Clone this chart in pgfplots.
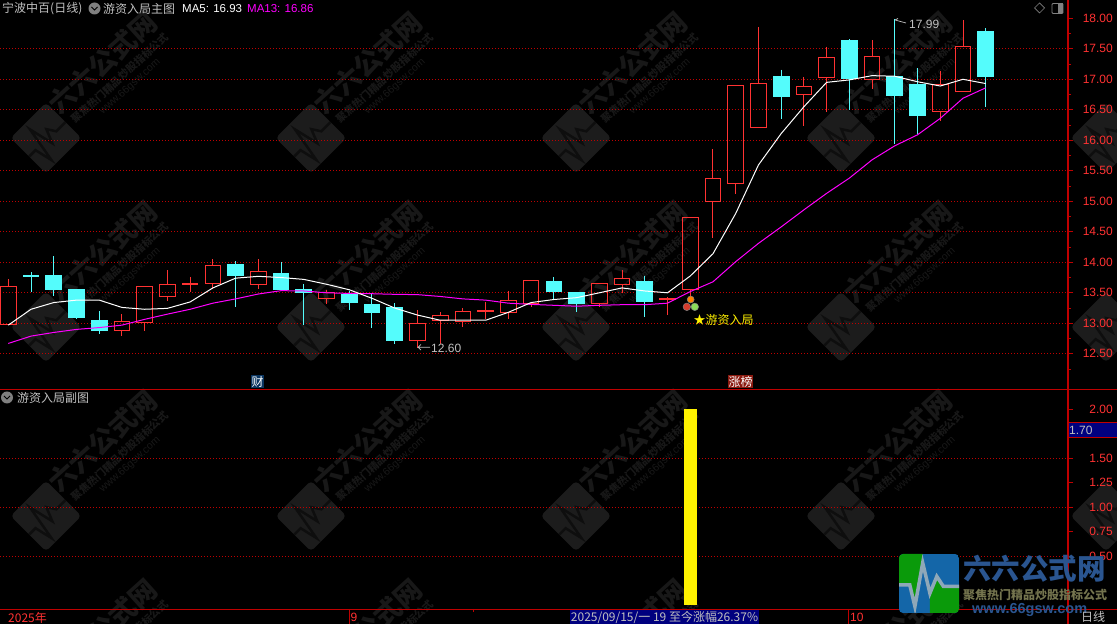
\documentclass[border=0pt]{standalone}
\usepackage{fontspec}
\usepackage{pgfplots}
\pgfplotsset{compat=1.18}
\setmainfont{Liberation Sans}
\newfontfamily\cjk{Noto Sans CJK SC}
\definecolor{redc}{HTML}{FF3232}
\definecolor{cyanc}{HTML}{54FCFC}
\definecolor{axisred}{HTML}{C00000}
\definecolor{griddot}{HTML}{C00000}
\definecolor{wm}{HTML}{1C1C1C}
\definecolor{wmd}{HTML}{0E0E0E}
\definecolor{wmt}{HTML}{181818}
\definecolor{lblue}{HTML}{2A5590}
\definecolor{ltan}{HTML}{74744E}
\definecolor{lgreen}{HTML}{0A9A0A}
\definecolor{lbl}{HTML}{1466A8}
\definecolor{lpulse}{HTML}{8FA8B8}
\definecolor{navyb}{HTML}{00007F}
\definecolor{greyt}{HTML}{C0C0C0}
\definecolor{magc}{HTML}{FF00FF}
\definecolor{tagb}{HTML}{0A3560}
\definecolor{tagr}{HTML}{8B1A10}
\definecolor{ballr}{HTML}{D63C2D}
\definecolor{ballg}{HTML}{8CDC5A}
\newcommand{\upc}[5]{%
  \pgfmathsetmacro\xa{#1-0.345}\pgfmathsetmacro\xb{#1+0.345}%
  \addplot[redc,line width=1pt] coordinates {(#1,#4)(#1,#2)};
  \addplot[redc,line width=1pt] coordinates {(#1,#3)(#1,#5)};
  \addplot[draw=redc,fill=none,line width=1pt] coordinates {(\xa,#3)(\xb,#3)(\xb,#2)(\xa,#2)} -- cycle;
}
\newcommand{\dnc}[5]{%
  \pgfmathsetmacro\xa{#1-0.345}\pgfmathsetmacro\xb{#1+0.345}%
  \addplot[cyanc,line width=1pt] coordinates {(#1,#4)(#1,#5)};
  \addplot[draw=cyanc,fill=cyanc,line width=1pt] coordinates {(\xa,#3)(\xb,#3)(\xb,#2)(\xa,#2)} -- cycle;
}
\newcommand{\wmlogo}[2]{%
  \begin{scope}[shift={(#1,#2)},rotate=45,x=25pt,y=-25pt]
    \fill[wm,rounded corners=4pt] (-1,-1) rectangle (1,1);
    \draw[wmd,line width=2.5pt] (-1,.05)--(-.64,.05)--(-.47,.78)--(-.21,-.7)--(.03,.33)--(.26,-.24)--(.48,.1)--(1,.1);
  \end{scope}
}
\newcommand{\wmtile}[2]{%
  \wmlogo{#1}{#2}
  \node[wmt,rotate=42,inner sep=0pt,font=\cjk\bfseries\fontsize{27}{27}\selectfont] at (#1+57,#2-75) {六六公式网};
  \node[wmt,rotate=42,inner sep=0pt,font=\cjk\bfseries\fontsize{10.5}{10.5}\selectfont] at (#1+74,#2-60) {聚焦热门精品炒股指标公式};
  \node[wmt,rotate=42,inner sep=0pt,font=\fontsize{10.5}{10.5}\selectfont] at (#1+84,#2-51) {www.66gsw.com};
}
\pgfplotsset{
  stock/.style={
    scale only axis, width=1068pt,
    xmin=-0.365, xmax=46.62, xtick=\empty,
    axis line style={draw=none},
    tick align=outside,
    ymajorgrids, grid style={griddot,line width=1pt,dash pattern=on 1pt off 2pt},
    ytick pos=right, yticklabel pos=right,
    major tick length=5pt, minor tick length=3pt,
    every y tick/.style={axisred,line width=0.8pt},
    minor y tick style={axisred,line width=0.8pt},
    yticklabel style={anchor=east,xshift=40pt,inner sep=0pt,text=redc,font=\fontsize{12}{12}\selectfont,
      /pgf/number format/fixed,/pgf/number format/fixed zerofill,/pgf/number format/precision=2,
      /pgf/number format/assume math mode=true},
    extra y tick style={grid=none},
  }
}
\begin{document}
\begin{tikzpicture}[x=1pt,y=1pt]
\path[use as bounding box] (0,0) rectangle (1117,624);
\fill[black] (0,0) rectangle (1117,624);
\begin{scope}
\clip (0,0) rectangle (1117,624);
\begin{scope}[x=1pt,y=-1pt,yshift=624pt]
  \foreach \yy in {138,327,516}{
    \foreach \xx in {46,311,576,841}{
      \wmtile{\xx}{\yy}
    }
    \wmlogo{1106}{\yy}
  }
  \foreach \xx in {46,311,576,841}{
    \wmtile{\xx}{705}
  }
\end{scope}
\end{scope}
%---------- main panel
\begin{axis}[stock, at={(0pt,235pt)}, anchor=south west, height=389pt,
  ymin=11.923, ymax=18.3,
  ytick={12.5,13,13.5,14,14.5,15,15.5,16,16.5,17,17.5},
  minor ytick={12.25,12.75,13.25,13.75,14.25,14.75,15.25,15.75,16.25,16.75,17.25,17.75},
  extra y ticks={18}]
\upc{0}{13.61}{12.98}{13.72}{12.98}
\dnc{1}{13.79}{13.76}{13.84}{13.51}
\dnc{2}{13.79}{13.55}{14.10}{13.45}
\dnc{3}{13.55}{13.09}{13.56}{13.07}
\dnc{4}{13.05}{12.89}{13.20}{12.82}
\upc{5}{13.03}{12.88}{13.15}{12.79}
\upc{6}{13.61}{13.01}{13.61}{12.88}
\upc{7}{13.64}{13.44}{13.87}{13.365}
\upc{8}{13.66}{13.63}{13.76}{13.51}
\upc{9}{13.95}{13.66}{14.05}{13.57}
\dnc{10}{13.97}{13.78}{14.02}{13.27}
\upc{11}{13.85}{13.63}{14.05}{13.56}
\dnc{12}{13.82}{13.55}{14.00}{13.55}
\dnc{13}{13.55}{13.50}{13.64}{12.98}
\upc{14}{13.50}{13.40}{13.55}{13.32}
\dnc{15}{13.48}{13.34}{13.53}{13.22}
\dnc{16}{13.30}{13.185}{13.49}{12.92}
\dnc{17}{13.26}{12.715}{13.33}{12.66}
\upc{18}{13.00}{12.715}{13.22}{12.60}
\upc{19}{13.13}{13.04}{13.185}{12.66}
\upc{20}{13.20}{13.03}{13.25}{12.94}
\upc{21}{13.21}{13.19}{13.35}{13.065}
\upc{22}{13.38}{13.17}{13.53}{13.07}
\upc{23}{13.70}{13.32}{13.70}{13.27}
\dnc{24}{13.68}{13.52}{13.76}{13.39}
\dnc{25}{13.50}{13.33}{13.50}{13.185}
\upc{26}{13.655}{13.32}{13.655}{13.27}
\upc{27}{13.74}{13.63}{13.87}{13.50}
\dnc{28}{13.68}{13.365}{13.78}{13.11}
\upc{29}{13.41}{13.39}{13.425}{13.14}
\upc{30}{14.74}{13.56}{14.74}{13.45}
\upc{31}{15.38}{14.99}{15.86}{14.40}
\upc{32}{16.90}{15.295}{16.90}{15.12}
\upc{33}{16.93}{16.21}{17.86}{16.21}
\dnc{34}{17.04}{16.71}{17.16}{16.355}
\upc{35}{16.885}{16.75}{17.04}{16.23}
\upc{36}{17.36}{17.03}{17.535}{16.47}
\dnc{37}{17.63}{17.005}{17.66}{16.50}
\upc{38}{17.38}{17.00}{17.64}{16.84}
\dnc{39}{17.04}{16.73}{17.99}{15.94}
\dnc{40}{16.92}{16.40}{17.185}{16.10}
\upc{41}{16.92}{16.475}{17.14}{16.32}
\upc{42}{17.54}{16.80}{17.97}{16.80}
\dnc{43}{17.79}{17.05}{17.84}{16.55}
% MA13
\addplot[magc,line width=1pt] coordinates {
(0,12.67)(1,12.79)(2,12.85)(3,12.90)(4,12.93)(5,12.97)(6,13.065)(7,13.15)(8,13.23)(9,13.33)
(10,13.40)(11,13.48)(12,13.535)(13,13.53)(14,13.50)(15,13.49)(16,13.485)(17,13.475)(18,13.47)(19,13.44)
(20,13.40)(21,13.38)(22,13.33)(23,13.31)(24,13.295)(25,13.28)(26,13.295)(27,13.305)(28,13.305)(29,13.33)
(30,13.52)(31,13.68)(32,14.01)(33,14.31)(34,14.58)(35,14.86)(36,15.13)(37,15.38)(38,15.68)(39,15.91)
(40,16.09)(41,16.36)(42,16.69)(43,16.86)};
% MA5
\addplot[white,line width=1pt] coordinates {
(0,12.97)(1,13.23)(2,13.34)(3,13.38)(4,13.38)(5,13.26)(6,13.23)(7,13.245)(8,13.35)(9,13.58)
(10,13.74)(11,13.77)(12,13.75)(13,13.72)(14,13.64)(15,13.55)(16,13.41)(17,13.25)(18,13.135)(19,13.05)
(20,13.05)(21,13.05)(22,13.18)(23,13.34)(24,13.39)(25,13.42)(26,13.50)(27,13.58)(28,13.53)(29,13.50)
(30,13.775)(31,14.14)(32,14.80)(33,15.595)(34,16.11)(35,16.55)(36,16.95)(37,16.99)(38,17.06)(39,17.05)
(40,16.96)(41,16.89)(42,17.00)(43,16.93)};
% signal balls
\addplot[only marks,mark=*,mark size=3.5pt,mark options={draw=gray,line width=.5pt,fill=orange}] coordinates {(30.02,13.39)};
\addplot[only marks,mark=*,mark size=3.8pt,mark options={draw=gray,line width=.5pt,fill=ballr}] coordinates {(29.85,13.27)};
\addplot[only marks,mark=*,mark size=3.8pt,mark options={draw=gray,line width=.5pt,fill=ballg}] coordinates {(30.2,13.27)};
\end{axis}
%---------- sub panel
\begin{axis}[stock, at={(0pt,15pt)}, anchor=south west, height=219pt,
  ymin=-0.038, ymax=2.197,
  ytick={0.5,1,1.5},
  extra y ticks={0.75,1.25,1.75,2}]
\addplot[ybar,bar width=13pt,fill=yellow,draw=none] coordinates {(30,2)};
\end{axis}
%---------- frame and texts in pixel coordinates
\begin{scope}[x=1pt,y=-1pt,yshift=624pt]
  \draw[axisred,line width=1pt] (0,389.5)--(1117,389.5);
  \draw[axisred,line width=1pt] (0,609.3)--(1117,609.3);
  \draw[axisred,line width=2pt] (1068,0)--(1068,624);
  \draw[axisred,line width=.8pt] (349.5,609)--(349.5,624);
  \draw[axisred,line width=.8pt] (848,609)--(848,624);
  \draw[axisred,line width=.8pt] (473.6,609)--(473.6,612);
  % title
  \node[anchor=west,inner sep=0pt,text=greyt,font=\cjk\fontsize{12}{12}\selectfont] at (2,9) {宁波中百(日线)};
  \fill[gray] (94.5,8.5) circle (6);
  \draw[black,line width=1pt] (91.5,7)--(94.5,10)--(97.5,7);
  \node[anchor=west,inner sep=0pt,text=greyt,font=\cjk\fontsize{12}{12}\selectfont] at (103,9) {游资入局主图};
  \node[anchor=west,inner sep=0pt,text=white,font=\fontsize{11.5}{12}\selectfont] at (182,9) {MA5: 16.93};
  \node[anchor=west,inner sep=0pt,text=magc,font=\fontsize{11.5}{12}\selectfont] at (247,9) {MA13: 16.86};
  \fill[gray] (7,397.5) circle (6);
  \draw[black,line width=1pt] (4,396)--(7,399)--(10,396);
  \node[anchor=west,inner sep=0pt,text=greyt,font=\cjk\fontsize{12}{12}\selectfont] at (17,398) {游资入局副图};
  % corner icons
  \draw[gray,line width=.7pt] (1039.5,3)--(1044.5,8)--(1039.5,13)--(1034.5,8)--cycle;
  \draw[gray,line width=.8pt,rounded corners=1pt] (1052,3.5) rectangle (1063,13.5);
  \fill[gray] (1058,3.5) rectangle (1063,13.5);
  % annotations
  \draw[greyt,line width=.7pt] (430,347.3)--(418,347.3) (421,344.5)--(418,347.3)--(421,350);
  \node[anchor=west,inner sep=0pt,text=greyt,font=\fontsize{12}{12}\selectfont] at (431,348) {12.60};
  \draw[greyt,line width=.7pt] (906,23)--(895,20) (895,20)--(898,18.5);
  \node[anchor=west,inner sep=0pt,text=greyt,font=\fontsize{12}{12}\selectfont] at (909,24.5) {17.99};
  \node[anchor=west,inner sep=0pt,text=yellow,font=\cjk\fontsize{12}{12}\selectfont] at (693.5,320) {★游资入局};
  % tags
  \fill[tagb] (251,375) rectangle (264,388);
  \node[inner sep=0pt,text=white,font=\cjk\fontsize{12}{12}\selectfont] at (257.5,381.5) {财};
  \fill[tagr] (728,375) rectangle (753,388);
  \node[inner sep=0pt,text=white,font=\cjk\fontsize{12}{12}\selectfont] at (740.5,381.5) {涨榜};
  % value box
  \fill[navyb,draw=axisred,line width=1pt] (1068,423) rectangle (1117,438);
  \node[anchor=west,inner sep=0pt,text=greyt,font=\fontsize{12}{12}\selectfont] at (1069,430.5) {1.70};
  % time axis
  \node[anchor=west,inner sep=0pt,text=redc,font=\cjk\fontsize{12}{12}\selectfont] at (8,617.5) {2025年};
  \node[anchor=west,inner sep=0pt,text=redc,font=\fontsize{12}{12}\selectfont] at (350.5,617.5) {9};
  \node[anchor=west,inner sep=0pt,text=redc,font=\fontsize{12}{12}\selectfont] at (850,617.5) {10};
  \fill[navyb] (570,610) rectangle (759,624);
  \node[inner sep=0pt,text=greyt,font=\cjk\fontsize{12}{12}\selectfont] at (664.5,617.5) {2025/09/15/一 19 至今涨幅26.37\%};
  % logo
  \begin{scope}[shift={(929,583.5)},x=30pt,y=-29.5pt]
    \begin{scope}
      \clip[rounded corners=4pt] (-1,-1) rectangle (1,1);
      \fill[lbl] (-1,-1) rectangle (1,1);
      \fill[lgreen] (-1,-1)--(-.21,-1)--(-.21,-.7)--(-.47,.78)--(-.64,.05)--(-1,.05)--cycle;
      \fill[lgreen] (1,1)--(.03,1)--(.03,.33)--(.26,-.24)--(.48,.1)--(1,.1)--cycle;
      \draw[lpulse,line width=3.5pt] (-1,.05)--(-.64,.05)--(-.47,.78)--(-.21,-.7)--(.03,.33)--(.26,-.24)--(.48,.1)--(1,.1);
    \end{scope}
  \end{scope}
  \node[anchor=west,inner sep=0pt,text=lblue,font=\cjk\bfseries\fontsize{28.5}{28.5}\selectfont] at (963,568.5) {六六公式网};
  \node[anchor=west,inner sep=0pt,text=ltan,font=\cjk\bfseries\fontsize{12}{12}\selectfont] at (963,595) {聚焦热门精品炒股指标公式};
  \node[anchor=west,inner sep=0pt,text=lblue,font=\bfseries\fontsize{14.5}{14.5}\selectfont] at (972,610) {www.66gsw.com};
  \node[anchor=west,inner sep=0pt,text=greyt,font=\cjk\fontsize{12}{12}\selectfont] at (1081,617) {日线};
\end{scope}
\end{tikzpicture}
\end{document}
